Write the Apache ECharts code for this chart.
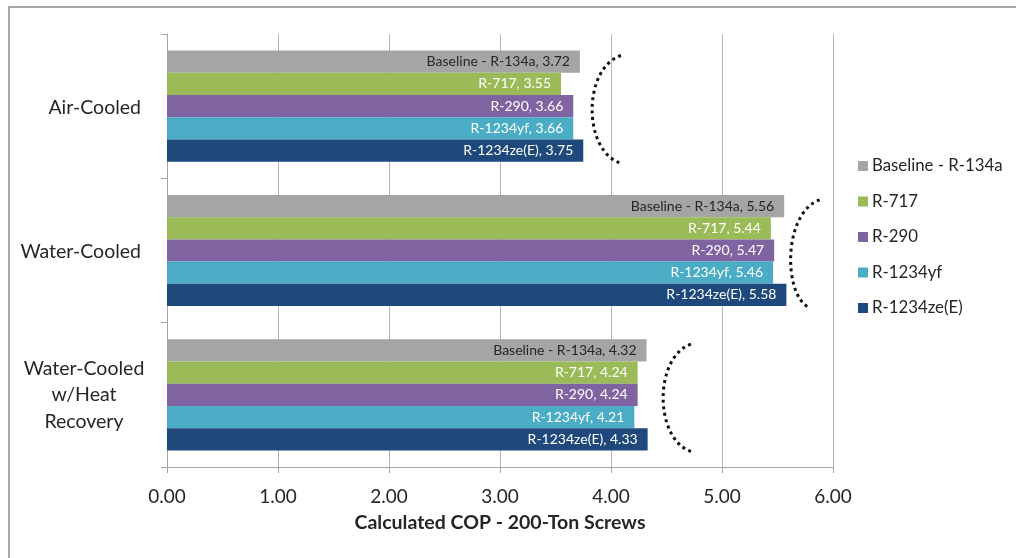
<!DOCTYPE html>
<html>
<head>
<meta charset="utf-8">
<script src="https://cdn.jsdelivr.net/npm/echarts@6/dist/echarts.min.js"></script>
<style>
  html, body { margin: 0; padding: 0; background: #ffffff; }
  #chart { width: 1016px; height: 558px; }
</style>
</head>
<body>
<div id="chart"></div>
<script>
// Chiller configurations (top to bottom)
const categories = ['Air-Cooled', 'Water-Cooled', 'Water-Cooled w/Heat Recovery'];

// Refrigerants, in the order they are stacked within each group
const seriesNames = ['Baseline - R-134a', 'R-717', 'R-290', 'R-1234yf', 'R-1234ze(E)'];

// Calculated COP per refrigerant, one value per configuration
const copBaseline = [3.72, 5.56, 4.32];
const copR717     = [3.55, 5.44, 4.24];
const copR290     = [3.66, 5.47, 4.24];
const copR1234yf  = [3.66, 5.46, 4.21];
const copR1234ze  = [3.75, 5.58, 4.33];

// Axis ticks
const xTicks = [0, 1, 2, 3, 4, 5, 6];

// Dotted bracket beside each group: leftmost point, upper tip, lower tip (COP units)
const bracketLeft   = [3.83, 5.62, 4.47];
const bracketTop    = [4.09, 5.88, 4.72];
const bracketBottom = [4.08, 5.78, 4.72];

const seriesValues = [copBaseline, copR717, copR290, copR1234yf, copR1234ze];
const colors = ['#A5A5A5', '#9BBB59', '#8064A2', '#4BACC6', '#1F497D'];
const labelColors = ['#262626', '#ffffff', '#ffffff', '#ffffff', '#ffffff'];
const FONT = 'Lato';
const CAT_SIZE = 19.5;

const chart = echarts.init(document.getElementById('chart'), null, { renderer: 'canvas' });

const barSeries = seriesNames.map((name, i) => ({
  name: name,
  type: 'bar',
  data: seriesValues[i],
  barGap: '0%',
  barCategoryGap: '23%',
  itemStyle: { color: colors[i] },
  label: {
    show: true,
    position: 'insideRight',
    distance: 10,
    formatter: p => p.seriesName + ', ' + p.value.toFixed(2),
    color: labelColors[i],
    fontFamily: FONT,
    fontSize: 14
  },
  emphasis: { disabled: true }
}));

const bracketSeries = {
  type: 'custom',
  name: 'brackets',
  silent: true,
  z: 5,
  encode: { x: [0, 1, 2], y: 3 },
  data: categories.map((c, i) => [bracketLeft[i], bracketTop[i], bracketBottom[i], c]),
  renderItem: function (params, api) {
    const cat = api.value(3);
    const mid = api.coord([api.value(0), cat]);
    const band = api.size([0, 1])[1];
    const half = band * 0.372;
    const yc = mid[1] + 3;
    const y0 = yc - half, y3 = yc + half;
    const xt = api.coord([api.value(1), cat])[0];
    const xb = api.coord([api.value(2), cat])[0];
    const cx = (8 * mid[0] - xt - xb) / 6;
    const h = y3 - y0;
    return {
      type: 'bezierCurve',
      shape: {
        x1: xt, y1: y0,
        cpx1: cx, cpy1: y0 + h * 0.12,
        cpx2: cx, cpy2: y3 - h * 0.12,
        x2: xb, y2: y3
      },
      style: {
        fill: null,
        stroke: '#111111',
        lineWidth: 3,
        lineDash: [3, 3.6]
      }
    };
  }
};

const option = {
  backgroundColor: '#ffffff',
  animation: false,
  textStyle: { fontFamily: FONT },
  graphic: [{
    type: 'rect',
    shape: { x: 9, y: 7, width: 1200, height: 900 },
    style: { fill: null, stroke: '#8c8c8c', lineWidth: 1.5 },
    silent: true,
    z: 100
  }],
  grid: { left: 167, right: 183, top: 34, bottom: 91, containLabel: false },
  legend: {
    orient: 'vertical',
    left: 853,
    top: 151,
    data: seriesNames,
    icon: 'rect',
    itemWidth: 10,
    itemHeight: 10,
    itemGap: 15.5,
    textStyle: { fontFamily: FONT, fontSize: 16.8, color: '#262626', lineHeight: 20, padding: [0, 0, 0, -1] }
  },
  xAxis: {
    type: 'value',
    min: xTicks[0],
    max: xTicks[xTicks.length - 1],
    interval: 1,
    name: 'Calculated COP - 200-Ton Screws',
    nameLocation: 'middle',
    nameGap: 46,
    nameTextStyle: { fontFamily: FONT, fontSize: 19.5, fontWeight: 'bold', color: '#262626' },
    axisLine: { show: true, lineStyle: { color: '#a6a6a6', width: 1 } },
    axisTick: { show: true, length: 6, lineStyle: { color: '#a6a6a6' } },
    axisLabel: {
      margin: 20,
      fontFamily: FONT,
      fontSize: 19,
      color: '#262626',
      formatter: v => v.toFixed(2)
    },
    splitLine: { show: true, lineStyle: { color: '#b4b4b4', width: 1 } }
  },
  yAxis: {
    type: 'category',
    data: categories,
    inverse: true,
    axisLine: { show: true, lineStyle: { color: '#a6a6a6', width: 1 } },
    axisTick: { show: true, length: 6, lineStyle: { color: '#a6a6a6' } },
    axisLabel: {
      margin: 20,
      fontFamily: FONT,
      fontSize: CAT_SIZE,
      color: '#262626',
      formatter: function (v) {
        if (v.indexOf('w/Heat') >= 0) {
          return '{w|Water-Cooled}\n{w|w/Heat}\n{w|Recovery}';
        }
        return '{a|' + v + '}{s|}';
      },
      rich: {
        a: { fontFamily: FONT, fontSize: CAT_SIZE, color: '#262626', padding: [3, 0, 0, 0] },
        s: { width: 6 },
        w: { fontFamily: FONT, fontSize: CAT_SIZE, color: '#262626', width: 126, align: 'center', lineHeight: 26.5 }
      }
    },
    splitLine: { show: false }
  },
  series: barSeries.concat([bracketSeries])
};

chart.setOption(option);
</script>
</body>
</html>
